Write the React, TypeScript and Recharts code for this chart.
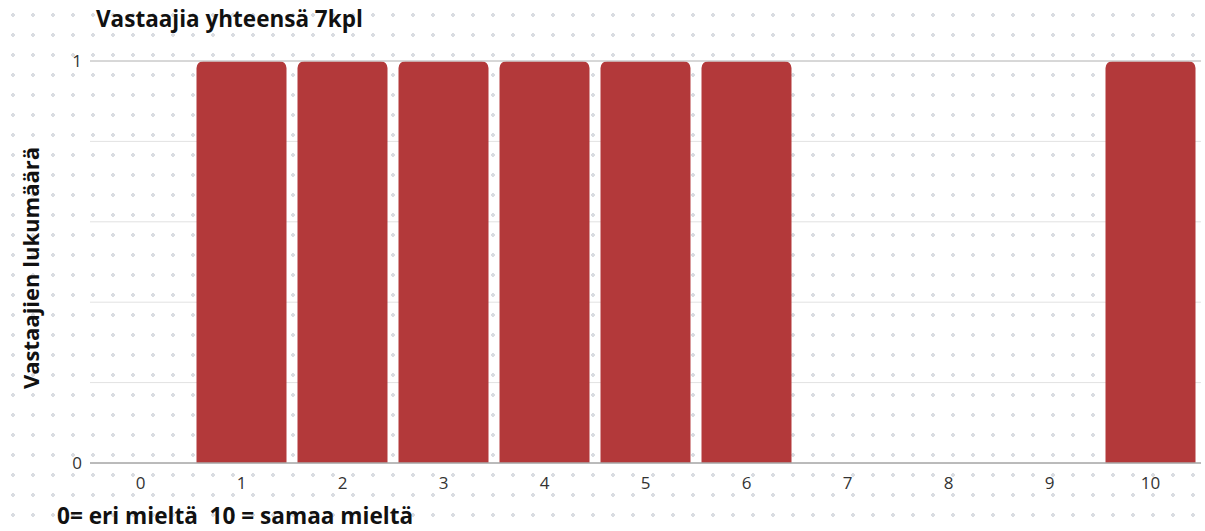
import { BarChart, Bar, XAxis, YAxis, CartesianGrid, ReferenceLine } from "recharts";

const scores = ["0", "1", "2", "3", "4", "5", "6", "7", "8", "9", "10"];
const respondents = [0, 1, 1, 1, 1, 1, 1, 0, 0, 0, 1];
const yTicks = [0, 0.2, 0.4, 0.6, 0.8, 1];

const data = scores.map((score, i) => ({ score, count: respondents[i] }));

const FONT = "'Open Sans', 'Noto Sans', sans-serif";

const App = () => {
  return (
    <div
      style={{
        position: "absolute",
        left: 0,
        top: 0,
        width: 1205,
        height: 531,
        background: "#fff",
        backgroundImage: "radial-gradient(#d9dce1 1.8px, transparent 2.1px)",
        backgroundSize: "20px 20px",
        backgroundPosition: "3px 5px",
        fontFamily: FONT,
      }}
    >
      <BarChart
        width={1205}
        height={531}
        data={data}
        margin={{ top: 61, right: 4, left: 0, bottom: 0 }}
        barCategoryGap={5.5}
      >
        <CartesianGrid vertical={false} stroke="#e2e2e2" />
        <XAxis
          dataKey="score"
          height={68}
          axisLine={false}
          tickLine={false}
          tickMargin={8}
          tick={{ fill: "#333", fontSize: 17, fontFamily: FONT }}
        />
        <YAxis
          width={90}
          domain={[0, 1]}
          ticks={yTicks}
          interval={0}
          axisLine={false}
          tickLine={false}
          tickMargin={2}
          tickFormatter={(v: number) => (v === 0 || v === 1 ? String(v) : "")}
          tick={{ fill: "#333", fontSize: 17, fontFamily: FONT }}
        />
        <ReferenceLine y={1} stroke="#cfcfcf" strokeWidth={1.5} />
        <Bar dataKey="count" fill="#b3393a" radius={[7, 7, 0, 0]} isAnimationActive={false} />
        <ReferenceLine y={0} stroke="#a8a8a8" strokeWidth={1.5} />
      </BarChart>
      <div
        style={{
          position: "absolute",
          left: 96,
          top: 3,
          fontSize: 22.5,
          fontWeight: 700,
          color: "#111",
          whiteSpace: "nowrap",
        }}
      >
        Vastaajia yhteensä 7kpl
      </div>
      <div
        style={{
          position: "absolute",
          left: 30,
          top: 268,
          fontSize: 22,
          fontWeight: 700,
          color: "#111",
          whiteSpace: "nowrap",
          transform: "translate(-50%, -50%) rotate(-90deg)",
        }}
      >
        Vastaajien lukumäärä
      </div>
      <div
        style={{
          position: "absolute",
          left: 57,
          top: 500,
          fontSize: 22.6,
          fontWeight: 700,
          color: "#111",
          whiteSpace: "pre",
        }}
      >
        {"0= eri mieltä  10 = samaa mieltä"}
      </div>
    </div>
  );
};

export default App;
